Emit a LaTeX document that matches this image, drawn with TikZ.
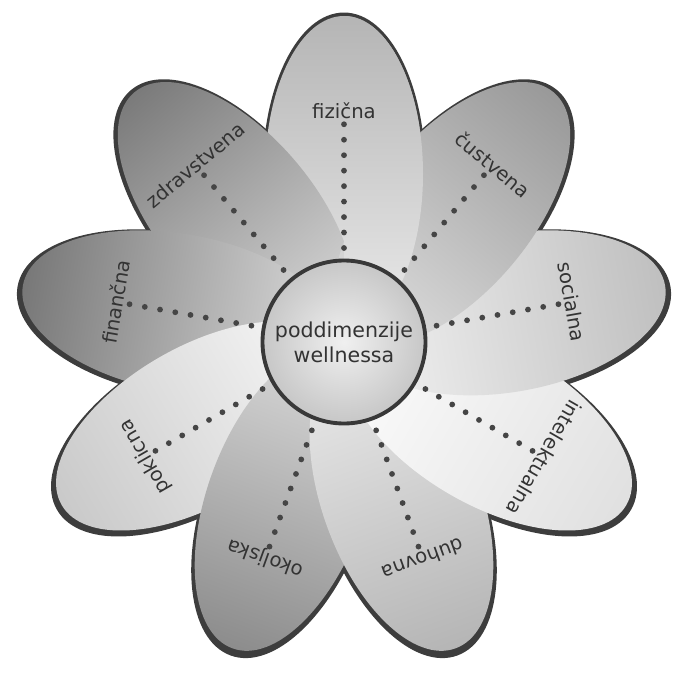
\documentclass[tikz,border=0pt]{standalone}
\usepackage{fontspec}
\setmainfont{DejaVu Sans}
\tikzset{
  rim/.style={fill=black!76, draw=black!76, line width=2.8pt},
  dotline/.style={black!73, line width=3.3pt, line cap=round, dash pattern=on 0pt off 8.8pt},
  petal label/.style={text=black!80, font=\fontsize{11.2}{13}\selectfont, text height=1.5ex, text depth=.25ex, inner sep=2pt},
  hub/.style={circle, draw=black!78, line width=2.2pt, minimum size=3.26cm, inner color=black!6, outer color=black!22, align=center, text=black!80, font=\fontsize{11.7}{14.2}\selectfont}
}
\begin{document}
\begin{tikzpicture}
\useasboundingbox (-6.88,-6.64) rectangle (6.78,6.84);
\coordinate (mid) at (0,0);

% dark rim under every petal
\foreach \a in {90,130,170,-150,-110,-70,-30,10,50}
  \path[rim, shift={(0,-0.04)}, rotate=\a] (3.42,0) ellipse (3.16 and 1.58);

% petals, each one over its neighbour
\foreach \a/\go/\gi in {90/29/8, 130/52/14, 170/53/14, -150/21/3, -110/45/14, -70/29/8, -30/12/1, 10/25/5, 50/40/12}{
  \begin{scope}[transform canvas={rotate=\a}]
    \shade[left color=black!\gi, right color=black!\go] (3.36,0) ellipse (3.16 and 1.58);
  \end{scope}
}

% top petal again, its right half over the next one
\begin{scope}
  \clip (0,0) rectangle (7,7);
  \begin{scope}[transform canvas={rotate=90}]
    \shade[left color=black!8, right color=black!29] (3.36,0) ellipse (3.16 and 1.58);
  \end{scope}
\end{scope}

% labels and dotted spokes
\foreach \a/\n [count=\i] in {90/fizična, 50/čustvena, 10/socialna, -30/intelektualna, -70/duhovna, -110/okoljska, -150/poklicna, 170/finančna, 130/zdravstvena}{
  \node[petal label, rotate=\a-90] (lab\i) at (\a:4.6) {\n};
  \draw[dotline] (lab\i) -- (mid);
}

\node[hub] (hub) at (mid) {poddimenzije\\wellnessa};
\end{tikzpicture}
\end{document}
